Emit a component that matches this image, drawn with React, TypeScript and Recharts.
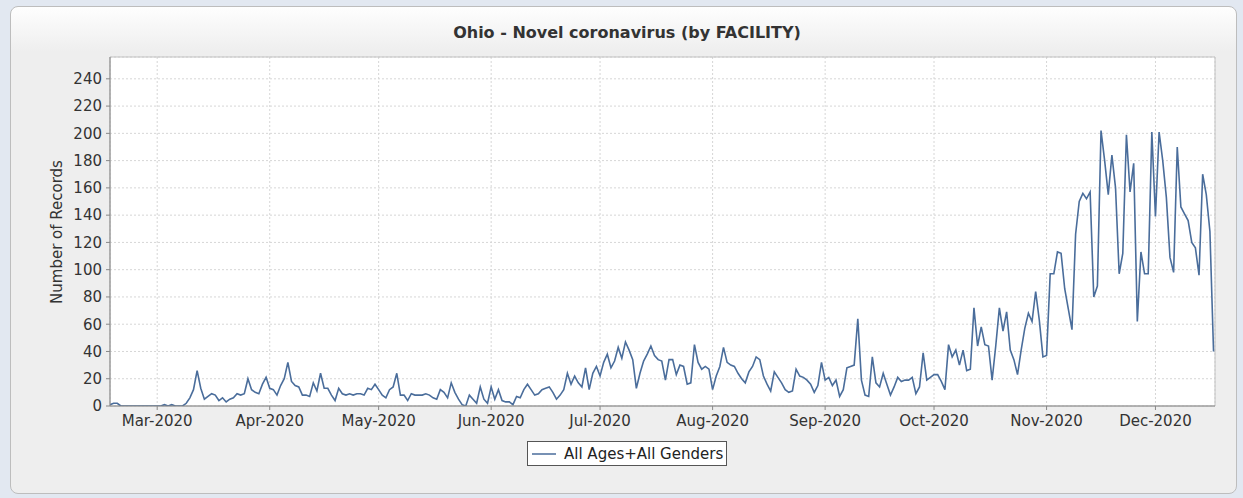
import React from 'react';
import { LineChart, Line, XAxis, YAxis, CartesianGrid, ReferenceArea } from 'recharts';

// daily record counts, 17 Feb 2020 .. 17 Dec 2020
const START_DATE = '2020-02-17';
const feb = [1, 2, 2, 0, 0, 0, 0, 0, 0, 0, 0, 0, 0];
const mar = [0, 0, 1, 0, 1, 0, 0, 0, 2, 6, 12, 26, 13, 5, 7, 9, 8, 4, 6, 3, 5, 6, 9, 8, 9, 20, 12, 10, 9, 16, 21];
const apr = [13, 12, 8, 15, 20, 32, 18, 15, 14, 8, 8, 7, 17, 11, 24, 13, 13, 8, 4, 13, 9, 8, 9, 8, 9, 9, 8, 13, 12, 16];
const may = [12, 8, 6, 12, 14, 24, 8, 8, 4, 9, 8, 8, 8, 9, 8, 6, 5, 12, 10, 6, 17, 10, 5, 1, 0, 8, 5, 2, 14, 5, 2];
const jun = [14, 5, 12, 4, 3, 3, 1, 7, 6, 12, 16, 12, 8, 9, 12, 13, 14, 10, 5, 8, 12, 24, 16, 22, 17, 14, 28, 12, 24, 29];
const jul = [22, 32, 38, 28, 33, 43, 35, 47, 41, 34, 13, 24, 33, 38, 44, 37, 34, 33, 19, 34, 34, 23, 30, 29, 16, 17, 45, 32, 27, 29, 27];
const aug = [12, 22, 29, 43, 32, 30, 29, 24, 20, 17, 25, 29, 36, 34, 22, 16, 11, 25, 21, 17, 12, 10, 11, 27, 22, 21, 19, 16, 10, 15, 32];
const sep = [19, 21, 15, 19, 7, 12, 28, 29, 30, 64, 19, 8, 7, 36, 17, 14, 24, 16, 8, 14, 21, 18, 19, 19, 21, 9, 14, 39, 19, 21];
const oct = [23, 23, 18, 12, 45, 36, 41, 30, 41, 26, 27, 72, 44, 58, 45, 44, 19, 44, 72, 55, 69, 41, 34, 23, 41, 57, 68, 62, 84, 63, 36];
const nov = [37, 97, 97, 113, 112, 86, 71, 56, 126, 150, 156, 152, 157, 80, 88, 202, 180, 155, 184, 160, 97, 112, 199, 157, 178, 62, 113, 97, 97, 201];
const dec = [139, 201, 180, 153, 109, 98, 190, 146, 141, 136, 120, 116, 96, 170, 155, 128, 40];

const counts = [...feb, ...mar, ...apr, ...may, ...jun, ...jul, ...aug, ...sep, ...oct, ...nov, ...dec];

const monthTicks = ['2020-03-01', '2020-04-01', '2020-05-01', '2020-06-01', '2020-07-01', '2020-08-01', '2020-09-01', '2020-10-01', '2020-11-01', '2020-12-01'];
const monthNames = ['Jan', 'Feb', 'Mar', 'Apr', 'May', 'Jun', 'Jul', 'Aug', 'Sep', 'Oct', 'Nov', 'Dec'];
const yTicks = [0, 20, 40, 60, 80, 100, 120, 140, 160, 180, 200, 220, 240];

const seriesName = 'All Ages+All Genders';
const FONT = '"DejaVu Sans", sans-serif';
const LINE_COLOR = '#4a6d9b';

const DAY = 86400000;
const t0 = Date.parse(START_DATE);
const data = counts.map((v, i) => ({ t: t0 + i * DAY, value: v }));
const xTicks = monthTicks.map((d) => Date.parse(d));
const xMax = t0 + (counts.length - 1 + 0.4) * DAY;

const fmtMonth = (t: number) => {
  const d = new Date(t);
  return `${monthNames[d.getUTCMonth()]}-${d.getUTCFullYear()}`;
};

export default function App() {
  return (
    <div style={{ position: 'fixed', left: 0, top: 0, width: 1243, height: 498, background: '#e2e8f1', fontFamily: FONT }}>
      <div
        style={{
          position: 'absolute', left: 10, top: 6, width: 1227, height: 488,
          border: '1px solid #bdbdbd', borderRadius: 8, boxSizing: 'border-box',
          background: 'linear-gradient(#fefefe 0px, #eeeeee 45px, #eeeeee 100%)',
        }}
      />
      <div style={{ position: 'absolute', left: 0, top: 23, width: 1254, textAlign: 'center', fontSize: 16, fontWeight: 'bold', color: '#333' }}>
        Ohio - Novel coronavirus (by FACILITY)
      </div>
      <div
        style={{
          position: 'absolute', left: 57, top: 232, fontSize: 15, color: '#333', whiteSpace: 'nowrap',
          transform: 'translate(-50%, -50%) rotate(-90deg)',
        }}
      >
        Number of Records
      </div>
      <div style={{ position: 'absolute', left: 0, top: 0 }}>
        <LineChart width={1243} height={498} data={data} margin={{ top: 57, right: 28, bottom: 62, left: 50 }}>
          <CartesianGrid stroke="#d6d6d6" strokeDasharray="2 2" fill="#ffffff" />
          <XAxis
            dataKey="t" type="number" scale="time" domain={[t0, xMax]} ticks={xTicks}
            tickFormatter={fmtMonth} height={30} tickSize={4} tickMargin={5}
            tick={{ fill: '#333', fontSize: 15, fontFamily: FONT }}
            stroke="#888" allowDataOverflow
          />
          <YAxis
            type="number" domain={[0, 256]} ticks={yTicks} width={60} tickSize={4} tickMargin={4}
            tick={{ fill: '#333', fontSize: 15, fontFamily: FONT }}
            stroke="#888" allowDataOverflow
          />
          <ReferenceArea x1={t0} x2={xMax} y1={0} y2={256} fill="none" stroke="#c2c2c2" strokeWidth={1} ifOverflow="visible" />
          <Line type="linear" dataKey="value" name={seriesName} stroke={LINE_COLOR} strokeWidth={1.6} dot={false} isAnimationActive={false} />
        </LineChart>
      </div>
      <div
        style={{
          position: 'absolute', left: 527, top: 441, width: 200, height: 25, boxSizing: 'border-box',
          border: '1px solid #555', background: '#fff', display: 'flex', alignItems: 'center', fontSize: 15, color: '#222',
        }}
      >
        <svg width={30} height={10} style={{ marginLeft: 4, marginRight: 2 }}>
          <line x1={0} y1={5} x2={24} y2={5} stroke={LINE_COLOR} strokeWidth={1.5} />
        </svg>
        <span>{seriesName}</span>
      </div>
    </div>
  );
}
